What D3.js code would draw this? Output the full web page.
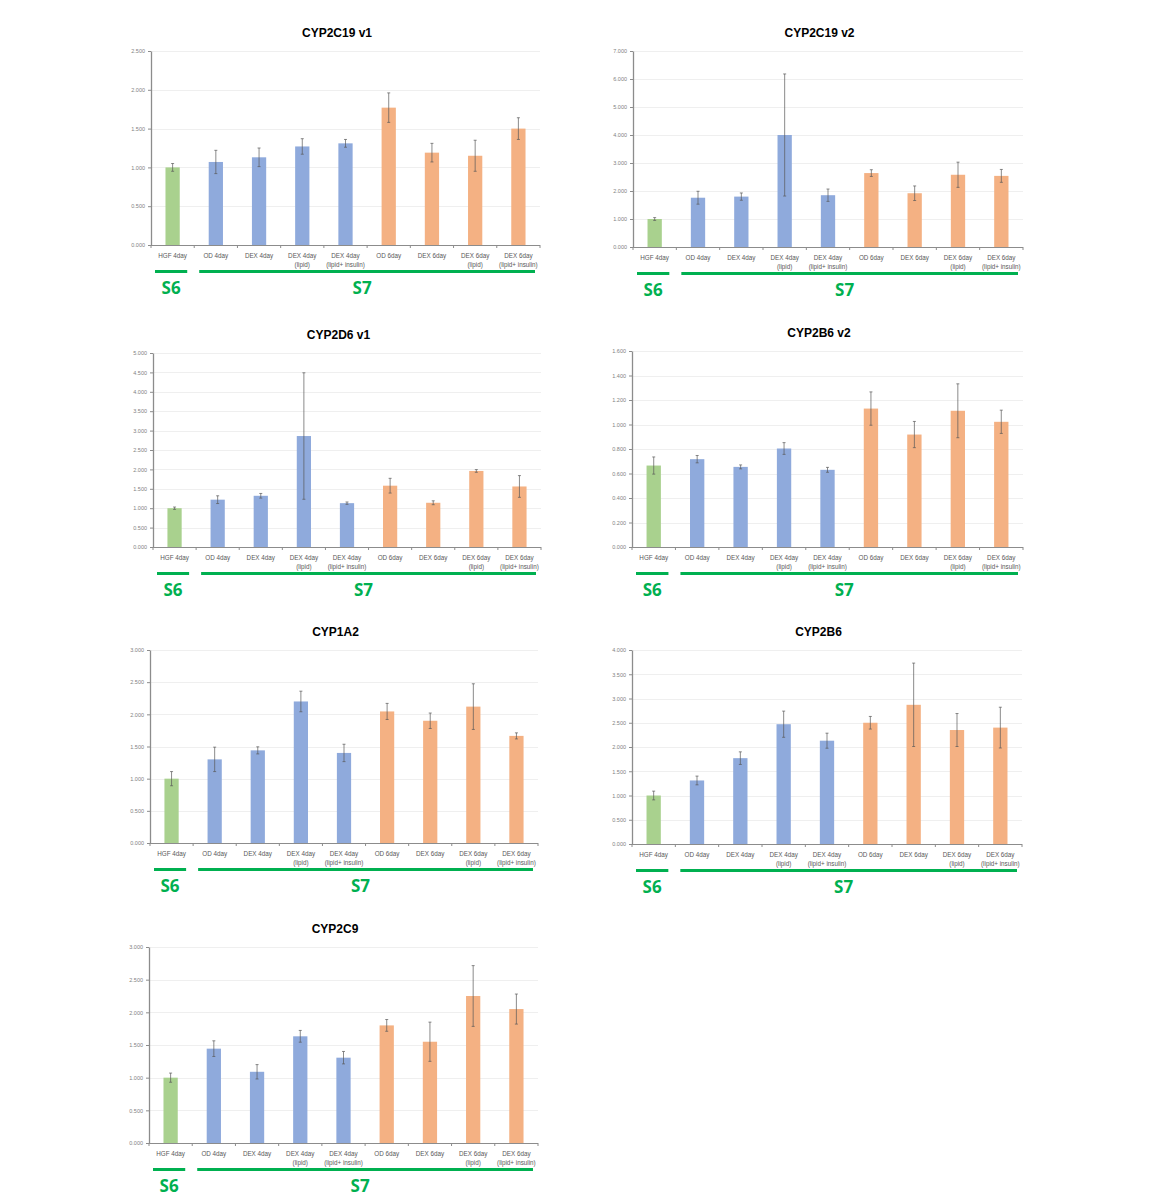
<!DOCTYPE html>
<html>
<head>
<meta charset="utf-8">
<script src="https://cdn.jsdelivr.net/npm/d3@7"></script>
<style>
  body { margin: 0; background: #fff; }
  svg { display: block; }
</style>
</head>
<body>
<svg id="chart" width="1152" height="1202"></svg>
<script>
// categories (two lines each)
var categories = ["HGF 4day", "OD 4day", "DEX 4day", "DEX 4day (lipid)", "DEX 4day (lipid+ insulin)",
                  "OD 6day", "DEX 6day", "DEX 6day (lipid)", "DEX 6day (lipid+ insulin)"]
var catLine1 = ["HGF 4day", "OD 4day", "DEX 4day", "DEX 4day", "DEX 4day", "OD 6day", "DEX 6day", "DEX 6day", "DEX 6day"]
var catLine2 = ["", "", "", "(lipid)", "(lipid+ insulin)", "", "", "(lipid)", "(lipid+ insulin)"]
var catGroup = ["hgf", "d4", "d4", "d4", "d4", "d6", "d6", "d6", "d6"]

var titles = ["CYP2C19 v1", "CYP2C19 v2", "CYP2D6 v1", "CYP2B6 v2", "CYP1A2", "CYP2B6", "CYP2C9"]

// y axis maxima and tick step
var yMax  = [2.5, 7, 5, 1.6, 3, 4, 3]
var yStep = [0.5, 1, 0.5, 0.2, 0.5, 0.5, 0.5]

// mean values
var cyp2c19v1 = [1.00, 1.07, 1.13, 1.27, 1.31, 1.77, 1.19, 1.15, 1.50]
var cyp2c19v2 = [1.00, 1.76, 1.80, 4.00, 1.85, 2.64, 1.92, 2.58, 2.54]
var cyp2d6v1  = [1.00, 1.22, 1.32, 2.86, 1.13, 1.58, 1.14, 1.96, 1.56]
var cyp2b6v2  = [0.665, 0.717, 0.654, 0.804, 0.630, 1.130, 0.918, 1.112, 1.022]
var cyp1a2    = [1.00, 1.30, 1.44, 2.20, 1.40, 2.045, 1.90, 2.12, 1.665]
var cyp2b6    = [1.00, 1.31, 1.77, 2.47, 2.13, 2.50, 2.87, 2.35, 2.40]
var cyp2c9    = [1.00, 1.444, 1.09, 1.633, 1.306, 1.80, 1.55, 2.25, 2.05]

// error bars (+/-)
var err2c19v1 = [0.05, 0.15, 0.12, 0.10, 0.05, 0.19, 0.12, 0.20, 0.14]
var err2c19v2 = [0.05, 0.23, 0.13, 2.18, 0.22, 0.12, 0.26, 0.45, 0.23]
var err2d6v1  = [0.03, 0.10, 0.06, 1.63, 0.03, 0.19, 0.05, 0.035, 0.28]
var err2b6v2  = [0.07, 0.03, 0.016, 0.048, 0.02, 0.136, 0.107, 0.22, 0.095]
var err1a2    = [0.11, 0.19, 0.055, 0.16, 0.135, 0.125, 0.12, 0.355, 0.047]
var err2b6    = [0.09, 0.09, 0.13, 0.27, 0.155, 0.13, 0.86, 0.34, 0.42]
var err2c9    = [0.07, 0.12, 0.11, 0.09, 0.095, 0.09, 0.30, 0.465, 0.23]

var values = [cyp2c19v1, cyp2c19v2, cyp2d6v1, cyp2b6v2, cyp1a2, cyp2b6, cyp2c9]
var errors = [err2c19v1, err2c19v2, err2d6v1, err2b6v2, err1a2, err2b6, err2c9]

var color = d3.scaleOrdinal()
  .domain(["hgf", "d4", "d6"])
  .range(["#a9d18e", "#8faadc", "#f4b183"])

var stageGreen = "#00b050"

// plot frames: left x, right x, top y, bottom y
var frames = [
  {x0: 151, x1: 540, y0: 51,  y1: 245},
  {x0: 633, x1: 1023, y0: 51, y1: 247},
  {x0: 153, x1: 541, y0: 353, y1: 547},
  {x0: 632, x1: 1023, y0: 351, y1: 547},
  {x0: 150, x1: 538, y0: 650, y1: 843},
  {x0: 632, x1: 1022, y0: 650, y1: 844},
  {x0: 149, x1: 538, y0: 947, y1: 1143}
]

var svg = d3.select("#chart")

for (let p = 0; p < frames.length; p++) {
  drawPanel(p)
}

function drawPanel(p) {
  var f = frames[p]
  var g = svg.append("g")

  var x = d3.scaleBand()
    .domain(categories)
    .range([f.x0, f.x1])
    .paddingInner(0.67)
    .paddingOuter(0.335)

  var y = d3.scaleLinear()
    .domain([0, yMax[p]])
    .range([f.y1, f.y0])

  var ticks = d3.range(0, yMax[p] + yStep[p] / 2, yStep[p])

  // gridlines
  g.append("g")
    .selectAll("line")
    .data(ticks.slice(1))
    .enter()
    .append("line")
      .attr("x1", f.x0)
      .attr("x2", f.x1)
      .attr("y1", function (d) { return Math.round(y(d)) + 0.5 })
      .attr("y2", function (d) { return Math.round(y(d)) + 0.5 })
      .style("stroke", "#efefef")
      .style("stroke-width", 1)

  // y axis
  var yAxis = g.append("g")
    .attr("transform", "translate(" + f.x0 + ",0)")
    .call(d3.axisLeft(y).tickValues(ticks).tickFormat(d3.format(".3f")).tickSize(3).tickSizeOuter(0))
  yAxis.select(".domain").style("stroke", "#8c8c8c").style("stroke-width", 1.3)
  yAxis.selectAll(".tick line").style("stroke", "#8c8c8c")
  yAxis.selectAll(".tick text")
    .attr("x", -6)
    .style("font-family", "Liberation Sans, Arial, sans-serif")
    .style("font-size", "5.5px")
    .style("fill", "#7f7f7f")

  // x axis line and boundary ticks
  var step = x.step()
  var bounds = d3.range(0, categories.length + 1).map(function (i) { return f.x0 + i * step })
  g.append("line")
    .attr("x1", f.x0).attr("x2", f.x1)
    .attr("y1", f.y1 + 0.5).attr("y2", f.y1 + 0.5)
    .style("stroke", "#8c8c8c").style("stroke-width", 1.2)
  g.append("g")
    .selectAll("line")
    .data(bounds)
    .enter()
    .append("line")
      .attr("x1", function (d) { return d }).attr("x2", function (d) { return d })
      .attr("y1", f.y1).attr("y2", f.y1 + 3)
      .style("stroke", "#8c8c8c")

  // bars
  g.append("g")
    .selectAll("rect")
    .data(values[p])
    .enter()
    .append("rect")
      .attr("x", function (d, i) { return x(categories[i]) })
      .attr("width", x.bandwidth())
      .attr("y", function (d) { return y(d) })
      .attr("height", function (d) { return f.y1 - y(d) })
      .style("fill", function (d, i) { return color(catGroup[i]) })

  // error bars
  var eb = g.append("g")
    .selectAll("g")
    .data(values[p])
    .enter()
    .append("g")
  eb.append("line")
    .attr("x1", function (d, i) { return x(categories[i]) + x.bandwidth() / 2 })
    .attr("x2", function (d, i) { return x(categories[i]) + x.bandwidth() / 2 })
    .attr("y1", function (d, i) { return y(d + errors[p][i]) })
    .attr("y2", function (d, i) { return y(d - errors[p][i]) })
    .style("stroke", "#595959").style("stroke-width", 0.7)
  eb.append("line")
    .attr("x1", function (d, i) { return x(categories[i]) + x.bandwidth() / 2 - 1.5 })
    .attr("x2", function (d, i) { return x(categories[i]) + x.bandwidth() / 2 + 1.5 })
    .attr("y1", function (d, i) { return y(d + errors[p][i]) })
    .attr("y2", function (d, i) { return y(d + errors[p][i]) })
    .style("stroke", "#595959").style("stroke-width", 0.7)
  eb.append("line")
    .attr("x1", function (d, i) { return x(categories[i]) + x.bandwidth() / 2 - 1.5 })
    .attr("x2", function (d, i) { return x(categories[i]) + x.bandwidth() / 2 + 1.5 })
    .attr("y1", function (d, i) { return y(d - errors[p][i]) })
    .attr("y2", function (d, i) { return y(d - errors[p][i]) })
    .style("stroke", "#595959").style("stroke-width", 0.7)

  // category labels
  var lab = g.append("g")
    .style("font-family", "Liberation Sans, Arial, sans-serif")
    .style("font-size", "6.3px")
    .style("fill", "#595959")
    .attr("text-anchor", "middle")
  lab.selectAll(".l1")
    .data(catLine1)
    .enter()
    .append("text")
      .attr("x", function (d, i) { return x(categories[i]) + x.bandwidth() / 2 })
      .attr("y", f.y1 + 13)
      .text(function (d) { return d })
  lab.selectAll(".l2")
    .data(catLine2)
    .enter()
    .append("text")
      .attr("x", function (d, i) { return x(categories[i]) + x.bandwidth() / 2 })
      .attr("y", f.y1 + 21.5)
      .text(function (d) { return d })

  // title
  g.append("text")
    .attr("x", (f.x0 + f.x1) / 2 - 8.5)
    .attr("y", f.y0 - 14)
    .attr("text-anchor", "middle")
    .style("font-family", "Liberation Sans, Arial, sans-serif")
    .style("font-weight", "bold")
    .style("font-size", "12px")
    .style("fill", "#000")
    .text(titles[p])

  // stage bars S6 / S7
  var ly = f.y1 + 26.5
  var s6a = f.x0 + 4, s6b = f.x0 + step - 7
  var s7a = f.x0 + step + 5, s7b = f.x1 - 5
  g.append("line")
    .attr("x1", s6a).attr("x2", s6b).attr("y1", ly).attr("y2", ly)
    .style("stroke", stageGreen).style("stroke-width", 3)
  g.append("line")
    .attr("x1", s7a).attr("x2", s7b).attr("y1", ly).attr("y2", ly)
    .style("stroke", stageGreen).style("stroke-width", 3)
  g.append("text")
    .attr("x", (s6a + s6b) / 2)
    .attr("y", ly + 22)
    .attr("text-anchor", "middle")
    .style("font-family", "Open Sans, sans-serif")
    .style("font-weight", "bold")
    .style("font-size", "17px")
    .style("fill", stageGreen)
    .text("S6")
  g.append("text")
    .attr("x", (s7a + s7b) / 2 - 5)
    .attr("y", ly + 22)
    .attr("text-anchor", "middle")
    .style("font-family", "Open Sans, sans-serif")
    .style("font-weight", "bold")
    .style("font-size", "17px")
    .style("fill", stageGreen)
    .text("S7")
}
</script>
</body>
</html>
